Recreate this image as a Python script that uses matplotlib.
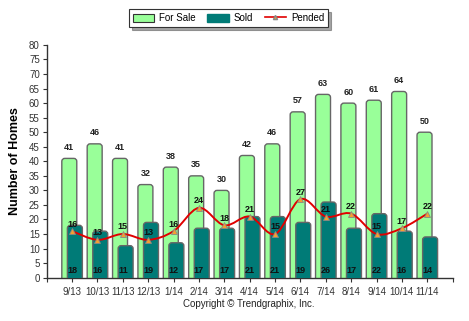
import matplotlib
matplotlib.use("Agg")
import matplotlib.pyplot as plt
from matplotlib.patches import FancyBboxPatch, Patch
from matplotlib.lines import Line2D
from matplotlib.path import Path
from matplotlib.patches import PathPatch
import numpy as np

months = ["9/13", "10/13", "11/13", "12/13", "1/14", "2/14", "3/14", "4/14",
          "5/14", "6/14", "7/14", "8/14", "9/14", "10/14", "11/14"]
for_sale = [41, 46, 41, 32, 38, 35, 30, 42, 46, 57, 63, 60, 61, 64, 50]
sold = [18, 16, 11, 19, 12, 17, 17, 21, 21, 19, 26, 17, 22, 16, 14]
pended = [16, 13, 15, 13, 16, 24, 18, 21, 15, 27, 21, 22, 15, 17, 22]

GREEN = "#99FF99"
TEAL = "#007B77"
RED = "#E00000"

plt.rcParams["font.family"] = ["Liberation Sans", "DejaVu Sans"]

fig = plt.figure(figsize=(4.69, 3.21), dpi=100)
ax = fig.add_axes([0.0996, 0.135, 0.8656, 0.725])

x = np.arange(len(months))
width = 0.59
off = 0.11
# px per data unit, used to keep the corner rounding circular
x_px, y_px = 25.4, 2.9
rs = 3.0 / x_px
aspect = (3.0 / y_px) / rs


def rounded_bar(xc, h, color, z):
    # start below zero so the bottom corners are clipped by the axes
    p = FancyBboxPatch((xc - width / 2, -3), width, h + 3,
                       boxstyle=f"round,pad=0,rounding_size={rs}",
                       mutation_aspect=aspect, facecolor=color,
                       edgecolor="#666666", linewidth=1.0, zorder=z)
    ax.add_patch(p)


for i in x:
    rounded_bar(i - off, for_sale[i], GREEN, 2)
    ax.text(i - off, for_sale[i] + 2.2, str(for_sale[i]), ha="center", va="bottom",
            fontsize=6.5, fontweight="bold", color="#222222")
for i in x:
    rounded_bar(i + off, sold[i], TEAL, 3)
    ax.text(i, 2.6, str(sold[i]), ha="center", va="center",
            fontsize=6.5, fontweight="bold", color="#111111", zorder=6)

# smooth pended curve (Catmull-Rom as cubic Bezier segments)
pts = np.column_stack([x, pended]).astype(float)
verts = [tuple(pts[0])]
codes = [Path.MOVETO]
for k in range(len(pts) - 1):
    p0 = pts[k - 1] if k > 0 else pts[k]
    p1, p2 = pts[k], pts[k + 1]
    p3 = pts[k + 2] if k + 2 < len(pts) else pts[k + 1]
    c1 = p1 + (p2 - p0) / 6
    c2 = p2 - (p3 - p1) / 6
    verts += [tuple(c1), tuple(c2), tuple(p2)]
    codes += [Path.CURVE4] * 3
ax.add_patch(PathPatch(Path(verts, codes), facecolor="none", edgecolor=RED,
                       linewidth=1.4, zorder=4))
ax.plot(x, pended, linestyle="none", marker="^", markersize=5,
        markerfacecolor="#F5A030", markeredgecolor="#888888",
        markeredgewidth=0.6, zorder=5)
for i in x:
    ax.text(i, pended[i] + 0.9, str(pended[i]), ha="center", va="bottom",
            fontsize=6.5, fontweight="bold", color="#111111", zorder=6)

ax.set_xlim(-1, len(months))
ax.set_ylim(0, 80)
ax.set_yticks(np.arange(0, 81, 5))
ax.set_xticks(x)
ax.set_xticklabels(months)
ax.set_xticks([-1, len(months)], minor=True)
ax.tick_params(axis="both", which="both", labelsize=7, colors="#333333",
               length=3, width=0.8, pad=2)
ax.tick_params(axis="x", pad=4)
ax.tick_params(axis="x", which="minor", length=3)
for s in ["top", "right"]:
    ax.spines[s].set_visible(False)
for s in ["left", "bottom"]:
    ax.spines[s].set_color("#333333")
    ax.spines[s].set_linewidth(1.0)

ax.set_ylabel("Number of Homes", fontsize=9, fontweight="bold", labelpad=6)

handles = [
    Patch(facecolor=GREEN, edgecolor="#333333", linewidth=0.8, label="For Sale"),
    Patch(facecolor=TEAL, edgecolor=TEAL, label="Sold"),
    Line2D([], [], color=RED, linewidth=1.2, marker="^", markersize=3,
           markerfacecolor="#F5A030", markeredgecolor="#888888", label="Pended"),
]
leg = fig.legend(handles=handles, loc="center", bbox_to_anchor=(0.487, 0.944),
                 ncol=3, fontsize=7, frameon=True, fancybox=False, shadow=True,
                 edgecolor="#333333", handlelength=2.2, handleheight=0.9,
                 columnspacing=1.2, handletextpad=0.5, borderpad=0.4)
leg.get_frame().set_linewidth(0.8)

fig.text(0.531, 0.053, "Copyright \u00a9 Trendgraphix, Inc.", ha="center",
         va="center", fontsize=7, color="#222222")

fig.savefig("out.png", dpi=100)
